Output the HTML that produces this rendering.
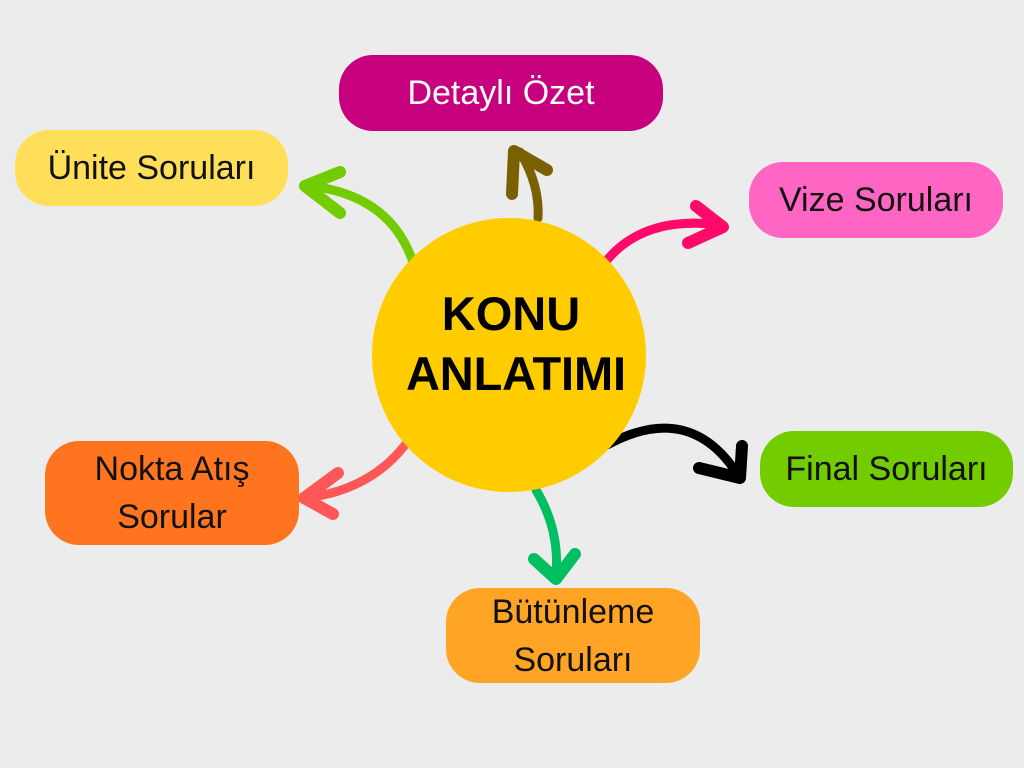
<!DOCTYPE html>
<html><head><meta charset="utf-8"><style>
body{margin:0;width:1024px;height:768px;background:#ececec;position:relative;overflow:hidden;font-family:"Liberation Sans",sans-serif}
.b{position:absolute;border-radius:34px;display:flex;align-items:center;justify-content:center;text-align:center;font-size:34px;line-height:48px;color:#111}
</style></head><body>
<svg width="1024" height="768" style="position:absolute;left:0;top:0">
<g fill="none" stroke-width="9" stroke-linecap="round" stroke-linejoin="round">
<path d="M413,262 Q390,195 310,186" stroke="#72cc00"/>
<path d="M340,172 L305,186 L340,213" stroke="#72cc00" stroke-width="12"/>
<path d="M538,218 Q540,185 520,152" stroke="#7a6000"/>
<path d="M547,170 L514,151 L512,194" stroke="#7a6000" stroke-width="12"/>
<path d="M607,260 Q645,215 720,225" stroke="#ff0a6a"/>
<path d="M696,206 L723,227 L688,243" stroke="#ff0a6a" stroke-width="12"/>
<path d="M607,445 Q690,400 738,475" stroke="#000"/>
<path d="M742,446 L740,478 L699,468" stroke="#000" stroke-width="12"/>
<path d="M536,490 Q560,530 556,575" stroke="#00bf63"/>
<path d="M534,559 L556,579 L575,554" stroke="#00bf63" stroke-width="12"/>
<path d="M405,445 Q370,490 306,498" stroke="#ff5757"/>
<path d="M338,473 L304,498 L333,514" stroke="#ff5757" stroke-width="12"/>
</g>
<circle cx="509" cy="355" r="137" fill="#ffcc00"/>
<text x="511" y="330" text-anchor="middle" font-family="Liberation Sans" font-weight="bold" font-size="47" fill="#000">KONU</text>
<text x="516" y="390" text-anchor="middle" font-family="Liberation Sans" font-weight="bold" font-size="47" fill="#000" textLength="220">ANLATIMI</text>
</svg>
<div class="b" style="left:339px;top:55px;width:324px;height:76px;background:#c7007d;color:#fff">Detaylı Özet</div>
<div class="b" style="left:15px;top:130px;width:273px;height:76px;background:#ffde59">Ünite Soruları</div>
<div class="b" style="left:749px;top:162px;width:254px;height:76px;background:#ff66c4">Vize Soruları</div>
<div class="b" style="left:760px;top:431px;width:253px;height:76px;background:#72cc00">Final Soruları</div>
<div class="b" style="left:45px;top:441px;width:254px;height:104px;background:#ff751f">Nokta Atış<br>Sorular</div>
<div class="b" style="left:446px;top:588px;width:254px;height:95px;background:#ffa424">Bütünleme<br>Soruları</div>
</body></html>
